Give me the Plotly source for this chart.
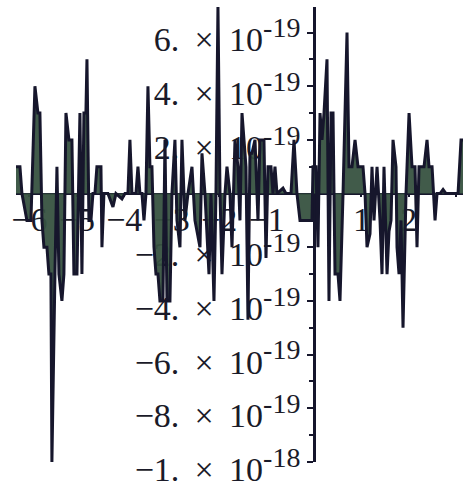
import math
import plotly.graph_objects as go

# Sampled round-off residual on [-2*pi, pi]; values in units of 1e-19
x_vals = [
    -6.283, -6.200, -6.158, -6.053, -5.968, -5.884, -5.821, -5.779, -5.736, -5.694,
    -5.631, -5.589, -5.547, -5.526, -5.462, -5.420, -5.378, -5.315, -5.273, -5.230,
    -5.167, -5.104, -5.062, -4.998, -4.935, -4.893, -4.851, -4.809, -4.787, -4.745,
    -4.703, -4.661, -4.619, -4.577, -4.492, -4.471, -4.429, -4.345, -4.239, -4.176,
    -4.049, -3.986, -3.923, -3.881, -3.838, -3.754, -3.712, -3.670, -3.627, -3.585,
    -3.543, -3.501, -3.459, -3.417, -3.374, -3.332, -3.290, -3.248, -3.185, -3.142,
    -3.100, -3.037, -2.995, -2.932, -2.889, -2.826, -2.784, -2.721, -2.657, -2.573,
    -2.510, -2.404, -2.362, -2.299, -2.214, -2.172, -2.109, -2.067, -2.025, -1.982,
    -1.940, -1.877, -1.835, -1.772, -1.729, -1.666, -1.603, -1.561, -1.518, -1.476,
    -1.434, -1.392, -1.350, -1.308, -1.244, -1.181, -1.139, -1.076, -1.055, -1.012,
    -0.970, -0.907, -0.865, -0.823, -0.780, -0.654, -0.591, -0.485, -0.422, -0.359,
    -0.295, -0.042, -0.021, 0.042, 0.084, 0.127, 0.169, 0.211, 0.274, 0.316,
    0.359, 0.401, 0.443, 0.506, 0.548, 0.612, 0.696, 0.738, 0.801, 0.865,
    0.928, 1.033, 1.076, 1.118, 1.181, 1.223, 1.265, 1.329, 1.392, 1.434,
    1.476, 1.540, 1.582, 1.624, 1.666, 1.729, 1.750, 1.793, 1.835, 1.877,
    1.940, 2.004, 2.067, 2.130, 2.172, 2.214, 2.320, 2.383, 2.425, 2.489,
    2.552, 2.594, 2.657, 2.721, 2.784, 3.037, 3.100, 3.1416,
]
y_units = [
    1, 1, 0, -1, -1, 4, 3, 3, -1, -2,
    -2, -3, -3, -10, -3, 1, -3, -4, -3, 3,
    2, 2, -3, -3, 3, -3, 3, 3, 5, -1,
    -1, 0, 0, 1, 1, -2, 0, 0, -0.5, 0,
    -0.2, 0, 0, 2, 0, 0, 1, 0, 0, -1,
    0, 4, 1, 1, -2, -3, -3, -4, -4, 2,
    -4, -4, 0, 2, -1, -2, 2, -1, 0, 1,
    -1, -2, 1.5, 0, -3, 0, -4, 0, 7, 0,
    -3, 0, 1, 0, -2, 2, 1, -1, 3, 2,
    1, -4.7, 1.5, 1.5, 2, -1, 2, 2, 2, -2.4,
    1, 1, 0, 1, 0, 0.2, 0, 0, 2, 0,
    -1, -1, 1, 1, -2, 3, 2, 3, 5, -4,
    3, 3, -3, -3, -4, 0, 6, 1, 1, 2,
    1, 1, 0, -2, -1.5, 1, -1, 1, -1, -3,
    1, -3, -1.4, -1, 2, 1, -2, -3, -1, -5,
    0, 3, 1, 1, -2, 1, 1, 2, 1, 1,
    -1, 0, 0, 0.15, 0, 0, 2, 2,
]
UNIT = 1e-19
y_vals = [v * UNIT for v in y_units]

# Axis ticks
x_ticks = [-6, -5, -4, -3, -2, -1, 1, 2, 3]
x_labels = ["\u2212" + str(-t) if t < 0 else str(t) for t in x_ticks]
y_ticks = [6e-19, 4e-19, 2e-19, -2e-19, -4e-19, -6e-19, -8e-19, -1e-18]
y_mantissa = ["6.", "4.", "2.", "\u22122.", "\u22124.", "\u22126.", "\u22128.", "\u22121."]
y_exponent = ["-19", "-19", "-19", "-19", "-19", "-19", "-19", "-18"]
y_labels = [
    f"{m}\u2009 \u00d7\u2009 10<sup><span style='font-size:28px'>{e}</span></sup>"
    for m, e in zip(y_mantissa, y_exponent)
]
y_minor = [5e-19, 3e-19, 1e-19, -1e-19, -3e-19, -5e-19, -7e-19, -9e-19]

X_MIN, X_MAX = -2 * math.pi, math.pi
Y_MIN, Y_MAX = -1e-18, 6.95e-19

LINE = "#16162c"
FILL = "rgba(55,82,64,0.95)"
TEXT = "#1a1a28"
FONT = "Times New Roman, Liberation Serif, serif"
FSIZE = 34

fig = go.Figure()
fig.add_trace(go.Scatter(
    x=x_vals, y=y_vals, mode="lines",
    line=dict(color=LINE, width=3),
    fill="tozeroy", fillcolor=FILL,
    hoverinfo="skip", showlegend=False,
))

fig.update_layout(
    width=463, height=487,
    margin=dict(l=16, r=0, t=7, b=25),
    paper_bgcolor="white", plot_bgcolor="white",
    font=dict(family=FONT, size=FSIZE, color=TEXT),
    xaxis=dict(
        range=[X_MIN, X_MAX], anchor="free",
        position=(0 - Y_MIN) / (Y_MAX - Y_MIN),
        showgrid=False, zeroline=False,
        showline=True, linecolor=LINE, linewidth=2,
        tickmode="array", tickvals=x_ticks, ticktext=x_labels,
        ticks="outside", ticklen=2, tickwidth=1.5, tickcolor=LINE,
        ticklabelstandoff=-6,
        tickfont=dict(family=FONT, size=FSIZE, color=TEXT),
        layer="below traces",
    ),
    yaxis=dict(
        range=[Y_MIN, Y_MAX], anchor="free",
        position=(0 - X_MIN) / (X_MAX - X_MIN),
        showgrid=False, zeroline=False,
        showline=True, linecolor=LINE, linewidth=2.5,
        tickmode="array", tickvals=y_ticks, ticktext=y_labels,
        ticks="outside", ticklen=6, tickwidth=1.5, tickcolor=LINE,
        ticklabelshift=7, ticklabeloverflow="allow",
        minor=dict(tickmode="array", tickvals=y_minor, ticks="outside",
                   ticklen=4, tickwidth=1.5, tickcolor=LINE, showgrid=False),
        tickfont=dict(family=FONT, size=FSIZE, color=TEXT),
        layer="below traces",
    ),
)

fig.write_html("out.html")
